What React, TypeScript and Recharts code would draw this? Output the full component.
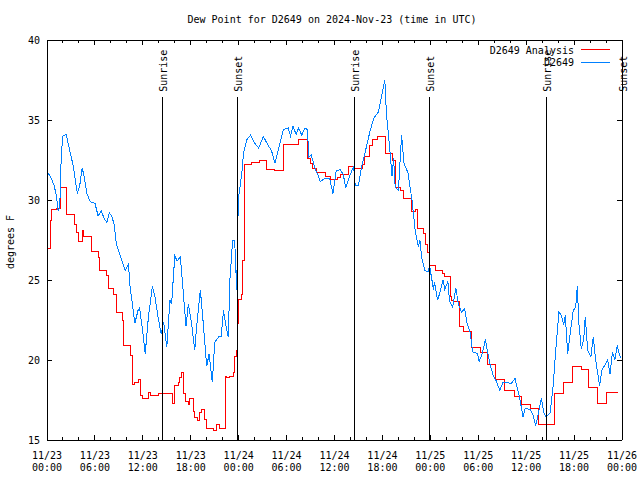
import React from 'react';
import { LineChart, Line, XAxis, YAxis, ReferenceLine } from 'recharts';

// ---- data (hours since 2024-11-23 00:00 UTC) ----
const obsHours = [
  0.0, 0.5, 0.9, 1.2, 1.4, 1.6, 1.8, 2.0, 2.4, 2.8, 3.3, 3.8, 4.1, 4.4, 4.6, 5.0, 5.4, 6.0, 6.4, 6.8,
  7.2, 7.5, 7.8, 8.1, 8.4, 8.7, 9.0, 9.35, 9.8, 10.2, 10.4, 11.0, 11.4, 11.6, 12.0, 12.3, 12.7, 13.2, 13.5, 13.9,
  14.3, 14.6, 15.0, 15.4, 15.6, 16.0, 16.3, 16.7, 17.1, 17.4, 17.7, 18.1, 18.5, 18.7, 19.2, 19.6, 20.0, 20.3, 20.7, 21.0,
  21.5, 21.8, 22.1, 22.5, 22.7, 22.9, 23.25, 23.5, 23.75, 23.9, 24.0, 24.4, 24.6, 25.0, 25.5, 26.0, 26.5, 27.1, 27.7, 28.1,
  28.55, 29.1, 29.6, 30.2, 30.5, 30.8, 31.2, 31.5, 31.9, 32.3, 32.6, 32.8, 33.1, 33.6, 33.9, 34.2, 34.8, 35.4, 35.8, 36.2,
  36.7, 37.1, 37.4, 37.9, 38.4, 38.6, 39.0, 39.4, 39.8, 40.4, 40.9, 41.5, 41.9, 42.3, 42.5, 42.9, 43.2, 43.4, 43.6, 44.0,
  44.4, 44.7, 45.2, 45.7, 46.1, 46.5, 46.7, 46.9, 47.3, 47.7, 47.9, 48.4, 48.5, 48.9, 49.2, 49.6, 49.8, 50.2, 50.4, 50.8,
  51.2, 51.5, 51.9, 52.3, 52.6, 53.0, 53.3, 53.9, 54.1, 54.5, 54.9, 55.2, 55.55, 55.9, 56.2, 56.7, 57.1, 57.7, 58.1, 58.6,
  59.2, 59.6, 59.9, 60.5, 60.9, 61.2, 61.5, 61.9, 62.2, 62.5, 63.0, 63.4, 63.7, 64.1, 64.4, 64.7, 64.9, 65.2, 65.5, 65.9,
  66.2, 66.4, 66.6, 66.9, 67.2, 67.4, 67.7, 68.1, 68.4, 68.7, 69.2, 69.5, 70.0, 70.2, 70.5, 70.8, 71.1, 71.4, 71.7, 71.9,
];
const obsValues = [
  31.8, 31.4, 30.9, 30.2, 29.3, 29.6, 33.0, 34.0, 34.1, 33.2, 32.1, 30.4, 30.9, 32.0, 31.6, 30.4, 29.9, 29.8, 29.0, 29.3,
  28.8, 28.6, 29.2, 29.0, 28.5, 27.2, 26.8, 26.25, 25.6, 26.0, 24.6, 22.3, 23.1, 23.25, 21.7, 20.4, 22.7, 24.6, 24.0, 22.7,
  21.6, 22.4, 20.8, 23.75, 23.5, 26.5, 26.2, 26.45, 24.0, 22.1, 23.5, 22.3, 20.6, 21.9, 24.4, 22.1, 19.6, 20.4, 18.6, 21.1,
  21.45, 21.45, 23.1, 21.9, 21.45, 25.0, 27.5, 27.5, 24.4, 28.75, 30.2, 31.7, 32.9, 33.75, 34.06, 33.55, 33.25, 33.96, 33.4, 33.1,
  32.3, 33.4, 34.4, 34.5, 34.0, 34.6, 34.1, 34.5, 34.06, 34.5, 34.4, 32.7, 32.8, 31.9, 31.6, 31.15, 31.35, 31.35, 30.4, 31.8,
  31.9, 31.6, 30.75, 31.5, 32.1, 30.9, 30.9, 32.1, 32.9, 34.2, 35.1, 35.5, 36.5, 37.5, 35.4, 33.3, 31.5, 32.6, 30.8, 30.6,
  34.06, 32.3, 31.7, 30.0, 28.1, 27.1, 27.5, 26.45, 25.6, 25.5, 25.9, 24.4, 24.9, 23.75, 24.2, 25.0, 24.4, 24.9, 23.7, 23.3,
  24.5, 23.5, 23.0, 23.2, 22.3, 21.7, 20.5, 20.4, 19.9, 20.4, 21.3, 20.4, 19.6, 19.0, 18.75, 18.1, 18.6, 18.6, 18.5, 18.85,
  17.6, 16.45, 17.0, 16.9, 16.5, 15.9, 16.6, 17.6, 16.7, 16.45, 16.7, 18.5, 20.6, 23.0, 22.8, 22.2, 22.8, 20.4, 21.6, 23.1,
  23.3, 24.6, 22.3, 20.7, 21.25, 22.7, 20.6, 20.2, 21.45, 20.0, 18.4, 19.4, 19.8, 20.0, 19.1, 20.5, 20.0, 20.9, 20.3, 20.1,
];

const analysisHours = [
  0, 0.4, 0.6, 1.2, 1.7, 2.5, 3.5, 3.7, 4.0, 4.4, 4.6, 5.6, 6.4, 6.6, 7.5, 7.7, 8.3, 8.7, 9.5, 9.6,
  10.5, 10.7, 11.0, 11.4, 11.7, 12.0, 12.7, 13.0, 14.0, 15.7, 16.0, 16.5, 16.6, 16.8, 17.1, 17.4, 17.7, 17.9, 18.3, 18.5,
  18.9, 19.1, 19.4, 19.7, 20.0, 20.9, 21.2, 21.6, 22.3, 22.5, 22.9, 23.3, 23.5, 23.7, 23.9, 24.0, 24.3, 24.5, 24.7, 25.6,
  26.6, 27.5, 28.5, 29.6, 31.5, 32.6, 33.0, 33.3, 33.8, 34.9, 35.5, 36.4, 36.8, 37.8, 38.4, 39.5, 39.7, 40.4, 40.7, 41.4,
  42.4, 43.3, 43.6, 44.3, 44.6, 45.6, 46.2, 46.4, 47.2, 47.4, 47.6, 47.9, 48.6, 49.5, 49.8, 50.5, 50.7, 50.9, 51.6, 52.2,
  53.1, 54.3, 55.1, 56.1, 57.3, 58.6, 59.4, 60.5, 61.6, 63.5, 64.7, 65.8, 66.9, 67.8, 68.9, 70.0, 71.5,
];
const analysisValues = [
  27.0, 28.7, 29.4, 29.5, 30.8, 29.1, 28.5, 28.0, 27.4, 28.1, 27.7, 26.8, 26.4, 25.6, 25.3, 24.5, 24.1, 23.0, 22.5, 20.9,
  20.3, 18.5, 18.6, 18.8, 17.8, 17.6, 18.0, 17.8, 17.9, 17.3, 18.4, 18.6, 18.9, 19.2, 17.9, 17.4, 17.2, 17.6, 16.8, 16.4,
  16.2, 16.7, 16.9, 16.3, 15.7, 15.6, 16.0, 15.7, 19.0, 18.9, 19.0, 19.2, 20.2, 20.6, 22.3, 23.8, 24.1, 26.2, 32.2, 32.35,
  32.45, 31.9, 31.85, 33.5, 33.8, 32.6, 32.3, 32.0, 31.7, 31.45, 31.3, 31.4, 31.6, 32.1, 32.0, 32.2, 32.75, 33.4, 33.8, 34.0,
  32.9, 32.5, 30.8, 30.6, 30.1, 29.3, 29.4, 28.2, 27.9, 27.2, 26.7, 25.9, 25.6, 25.4, 25.2, 24.0, 23.75, 23.65, 22.1, 21.8,
  20.8, 20.5, 19.7, 18.8, 18.1, 17.75, 17.2, 17.0, 15.95, 17.9, 18.6, 19.6, 19.4, 18.3, 17.3, 18.0, 18.0,
];

const xTickHours = [0, 6, 12, 18, 24, 30, 36, 42, 48, 54, 60, 66, 72];
const xTickDates = ['11/23', '11/23', '11/23', '11/23', '11/24', '11/24', '11/24', '11/24', '11/25', '11/25', '11/25', '11/25', '11/26'];
const xTickTimes = ['00:00', '06:00', '12:00', '18:00', '00:00', '06:00', '12:00', '18:00', '00:00', '06:00', '12:00', '18:00', '00:00'];
const allXTicks = [0, 2, 4, 6, 8, 10, 12, 14, 16, 18, 20, 22, 24, 26, 28, 30, 32, 34, 36, 38, 40, 42, 44, 46, 48, 50, 52, 54, 56, 58, 60, 62, 64, 66, 68, 70, 72];
const yTicks = [15, 20, 25, 30, 35, 40];

const sunHours = [14.4, 23.8, 38.45, 47.85, 62.5, 72];
const sunLabels = ['Sunrise', 'Sunset', 'Sunrise', 'Sunset', 'Sunrise', 'Sunset'];
const sunLineTop = 36.45;

const seriesNames = ['D2649 Analysis', 'D2649'];
const title = 'Dew Point for D2649 on 2024-Nov-23 (time in UTC)';
const yTitle = 'degrees F';

// ---- derived tables ----
const obsData = obsHours.map((h, i) => ({ h, v: obsValues[i] }));
const analysisData = analysisHours.map((h, i) => ({ h, v: analysisValues[i] }));

const FONT = '"DejaVu Sans Mono", "Liberation Mono", monospace';
const RED = '#ff0000';
const BLUE = '#0080ff';
const CRISP = 'crispEdges';

const BottomTick = (props: any) => {
  const { x, y, payload } = props;
  const i = xTickHours.indexOf(payload.value);
  const major = i >= 0;
  return (
    <g>
      <line x1={x} x2={x} y1={y} y2={y - (major ? 5 : 3)} stroke="#000" strokeWidth={1} shapeRendering={CRISP} />
      {major && (
        <text x={x} y={y + 15} textAnchor="middle" dominantBaseline="central" fontSize={10} fontFamily={FONT} fill="#000">
          {xTickDates[i]}
        </text>
      )}
      {major && (
        <text x={x} y={y + 27} textAnchor="middle" dominantBaseline="central" fontSize={10} fontFamily={FONT} fill="#000">
          {xTickTimes[i]}
        </text>
      )}
    </g>
  );
};

const TopTick = (props: any) => {
  const { x, y, payload } = props;
  const major = xTickHours.indexOf(payload.value) >= 0;
  return <line x1={x} x2={x} y1={y} y2={y + (major ? 5 : 3)} stroke="#000" strokeWidth={1} shapeRendering={CRISP} />;
};

const LeftTick = (props: any) => {
  const { x, y, payload } = props;
  return (
    <g>
      <line x1={x} x2={x + 5} y1={y} y2={y} stroke="#000" strokeWidth={1} shapeRendering={CRISP} />
      <text x={x - 7} y={y} textAnchor="end" dominantBaseline="central" fontSize={10} fontFamily={FONT} fill="#000">
        {payload.value}
      </text>
    </g>
  );
};

const RightTick = (props: any) => {
  const { x, y } = props;
  return <line x1={x} x2={x - 5} y1={y} y2={y} stroke="#000" strokeWidth={1} shapeRendering={CRISP} />;
};

const sunLabel = (text: string) => (props: any) => {
  const vb = props.viewBox || {};
  const x = (vb.x ?? 0) + 1;
  const y = (vb.y ?? 97) - 5;
  return (
    <text
      transform={`translate(${x}, ${y}) rotate(-90)`}
      textAnchor="start"
      dominantBaseline="central"
      fontSize={10}
      fontFamily={FONT}
      fill="#000"
    >
      {text}
    </text>
  );
};

const axisLineStyle = { stroke: '#000', shapeRendering: CRISP } as any;

export default function App() {
  return (
    <div style={{ position: 'absolute', left: 0, top: 0, width: 640, height: 480, background: '#fff' }}>
      <LineChart width={640} height={480} margin={{ top: 0, right: 0, bottom: 0, left: 0 }}>
        <XAxis
          dataKey="h"
          type="number"
          domain={[0, 72]}
          ticks={allXTicks}
          interval={0}
          allowDataOverflow
          height={40}
          tickSize={0}
          tickMargin={0}
          tickLine={false}
          axisLine={axisLineStyle}
          tick={<BottomTick />}
        />
        <XAxis
          xAxisId="top"
          orientation="top"
          dataKey="h"
          type="number"
          domain={[0, 72]}
          ticks={allXTicks}
          interval={0}
          allowDataOverflow
          height={40}
          tickSize={0}
          tickMargin={0}
          tickLine={false}
          axisLine={axisLineStyle}
          tick={<TopTick />}
        />
        <YAxis
          type="number"
          domain={[15, 40]}
          ticks={yTicks}
          interval={0}
          allowDataOverflow
          width={47}
          tickSize={0}
          tickMargin={0}
          tickLine={false}
          axisLine={axisLineStyle}
          tick={<LeftTick />}
        />
        <YAxis
          yAxisId="right"
          orientation="right"
          type="number"
          domain={[15, 40]}
          ticks={yTicks}
          interval={0}
          allowDataOverflow
          width={18}
          tickSize={0}
          tickMargin={0}
          tickLine={false}
          axisLine={axisLineStyle}
          tick={<RightTick />}
        />
        <Line
          data={analysisData}
          dataKey="v"
          name={seriesNames[0]}
          type="stepAfter"
          stroke={RED}
          strokeWidth={1}
          dot={false}
          activeDot={false}
          isAnimationActive={false}
          shapeRendering={CRISP}
        />
        <Line
          data={obsData}
          dataKey="v"
          name={seriesNames[1]}
          type="linear"
          stroke={BLUE}
          strokeWidth={1}
          dot={false}
          activeDot={false}
          isAnimationActive={false}
          shapeRendering={CRISP}
        />
        {sunHours.map((h, i) => (
          <ReferenceLine
            key={i}
            segment={[{ x: h, y: sunLineTop }, { x: h, y: 15 }]}
            stroke="#000"
            strokeWidth={1}
            ifOverflow="visible"
            shapeRendering={CRISP}
            label={sunLabel(sunLabels[i])}
          />
        ))}
      </LineChart>
      <svg
        width={640}
        height={480}
        style={{ position: 'absolute', left: 0, top: 0, pointerEvents: 'none' }}
      >
        <text x={332} y={19} textAnchor="middle" dominantBaseline="central" fontSize={10} fontFamily={FONT} fill="#000">
          {title}
        </text>
        <text
          transform="translate(10, 242) rotate(-90)"
          textAnchor="middle"
          dominantBaseline="central"
          fontSize={10}
          fontFamily={FONT}
          fill="#000"
        >
          {yTitle}
        </text>
        <text x={574} y={50} textAnchor="end" dominantBaseline="central" fontSize={10} fontFamily={FONT} fill="#000">
          {seriesNames[0]}
        </text>
        <line x1={581} x2={610} y1={49.5} y2={49.5} stroke={RED} strokeWidth={1} shapeRendering={CRISP} />
        <text x={574} y={62.5} textAnchor="end" dominantBaseline="central" fontSize={10} fontFamily={FONT} fill="#000">
          {seriesNames[1]}
        </text>
        <line x1={581} x2={610} y1={62.5} y2={62.5} stroke={BLUE} strokeWidth={1} shapeRendering={CRISP} />
      </svg>
    </div>
  );
}
